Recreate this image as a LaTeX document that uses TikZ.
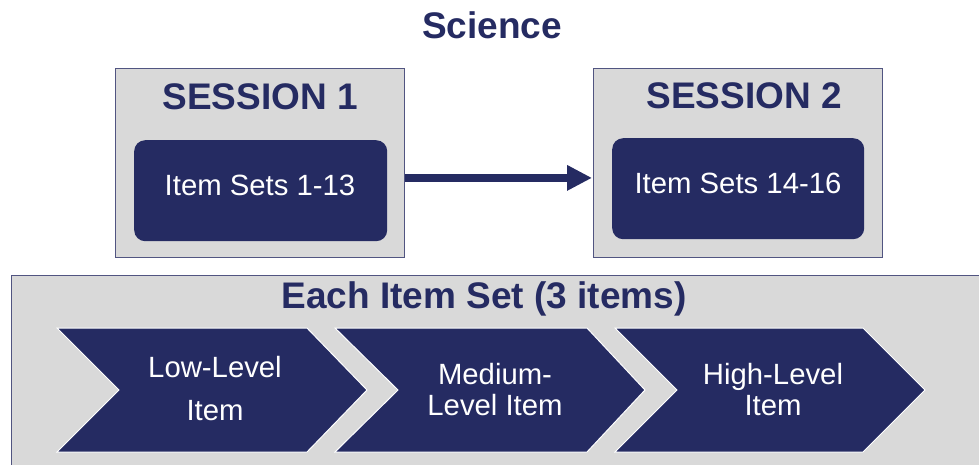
\documentclass[tikz,border=0pt]{standalone}
\usepackage{fontspec}
\setmainfont{Liberation Sans}
\usetikzlibrary{arrows.meta,calc}
\definecolor{navy}{RGB}{37,43,98}
\definecolor{panel}{RGB}{217,217,217}
\tikzset{
  panelbox/.style={draw=navy!80, line width=0.8pt, fill=panel, anchor=north west, inner sep=0pt},
  innerbox/.style={fill=navy, rounded corners=11pt, anchor=north west, inner sep=0pt},
  heading/.style={text=navy, font=\bfseries\fontsize{37}{41}\selectfont},
  whitetext/.style={text=white, font=\fontsize{29.3}{33}\selectfont, align=center},
  chev/.style={fill=navy, draw=white, line width=1pt},
}
\begin{document}
\begin{tikzpicture}[x=1pt,y=-1pt]
\useasboundingbox (0,0) rectangle (979,464);
\clip (0,0) rectangle (979,464);
\fill[white] (0,0) rectangle (979,464);
% title
\node[heading] (title) at (492,25) {Science};
% session boxes
\node[panelbox, minimum width=289pt, minimum height=189pt] (s1) at (115,68) {};
\node[panelbox, minimum width=289pt, minimum height=189pt] (s2) at (593,68) {};
\node[heading] (s1t) at (260,97) {SESSION 1};
\node[heading] (s2t) at (744,96) {SESSION 2};
\node[innerbox, minimum width=253pt, minimum height=101pt] (i1) at (134,140) {};
\node[innerbox, minimum width=252pt, minimum height=101pt] (i2) at (612,138) {};
\node[whitetext] at (260,185) {Item Sets 1-13};
\node[whitetext] at (738,183) {Item Sets 14-16};
% arrow
\draw[navy, line width=8pt, -{Triangle[length=25pt,width=24pt]}]
  ($(s1.east)+(0,15)$) -- ($(s2.west)+(-1,15)$);
% bottom panel
\node[panelbox, minimum width=985pt, minimum height=200pt] (bp) at (11,275) {};
\node[heading] (bpt) at (484,299) {Each Item Set (3 items)};
% chevrons
\draw[chev] (57,328) -- (307,328) -- (367,390) -- (307,452) -- (57,452) -- (119,390) -- cycle;
\draw[chev] (335,328) -- (587,328) -- (645,390) -- (587,452) -- (335,452) -- (398,390) -- cycle;
\draw[chev] (615,328) -- (863,328) -- (925,390) -- (863,452) -- (615,452) -- (677,390) -- cycle;
\node[whitetext, font=\fontsize{29.3}{43}\selectfont] (c1) at (215,389) {Low-Level\\Item};
\node[whitetext, font=\fontsize{29.3}{31}\selectfont] (c2) at (495,390) {Medium-\\Level Item};
\node[whitetext, font=\fontsize{29.3}{31}\selectfont] (c3) at (773,390) {High-Level\\Item};
\end{tikzpicture}
\end{document}
